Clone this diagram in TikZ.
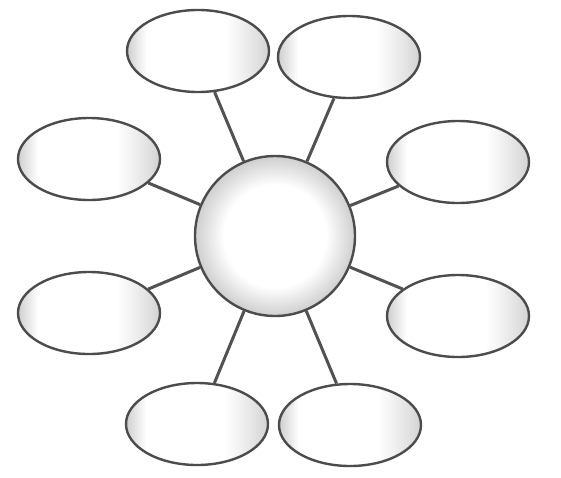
\documentclass[tikz,border=0pt]{standalone}
\usetikzlibrary{shapes.geometric}
\pgfdeclarehorizontalshading{ellshade}{100bp}{color(0bp)=(gray!38); color(25bp)=(gray!38); color(32bp)=(white); color(60bp)=(white); color(70bp)=(gray!22); color(75bp)=(gray!35); color(100bp)=(gray!35)}
\pgfdeclareradialshading{ballshade}{\pgfpoint{0bp}{0bp}}{color(0bp)=(white); color(16bp)=(white); color(25bp)=(gray!38); color(50bp)=(gray!38)}
\tikzset{
  bubble/.style={ellipse, draw=black!70, line width=2.4pt, shading=ellshade, minimum width=142pt, minimum height=82pt, inner sep=0pt},
  hub/.style={circle, draw=black!70, line width=2.4pt, shading=ballshade, minimum size=160pt, inner sep=0pt},
  spoke/.style={draw=black!68, line width=3pt}
}
\begin{document}
\begin{tikzpicture}[x=1pt,y=-1pt]
\useasboundingbox (0,0) rectangle (561,477);
\node[hub] (c) at (275,236) {};
\node[bubble] (e1) at (198,51) {};
\node[bubble] (e2) at (349,57) {};
\node[bubble] (e3) at (89,159) {};
\node[bubble] (e4) at (458,162) {};
\node[bubble] (e5) at (89,313) {};
\node[bubble] (e6) at (458,316) {};
\node[bubble] (e7) at (197,424) {};
\node[bubble] (e8) at (350,425) {};
\draw[spoke] (e1.-68) -- (c);
\draw[spoke] (e2.-110) -- (c);
\draw[spoke] (e3.-22) -- (c);
\draw[spoke] (e4.-158) -- (c);
\draw[spoke] (e5.22) -- (c);
\draw[spoke] (e6.154) -- (c);
\draw[spoke] (e7.67) -- (c);
\draw[spoke] (e8.108) -- (c);
\end{tikzpicture}
\end{document}
